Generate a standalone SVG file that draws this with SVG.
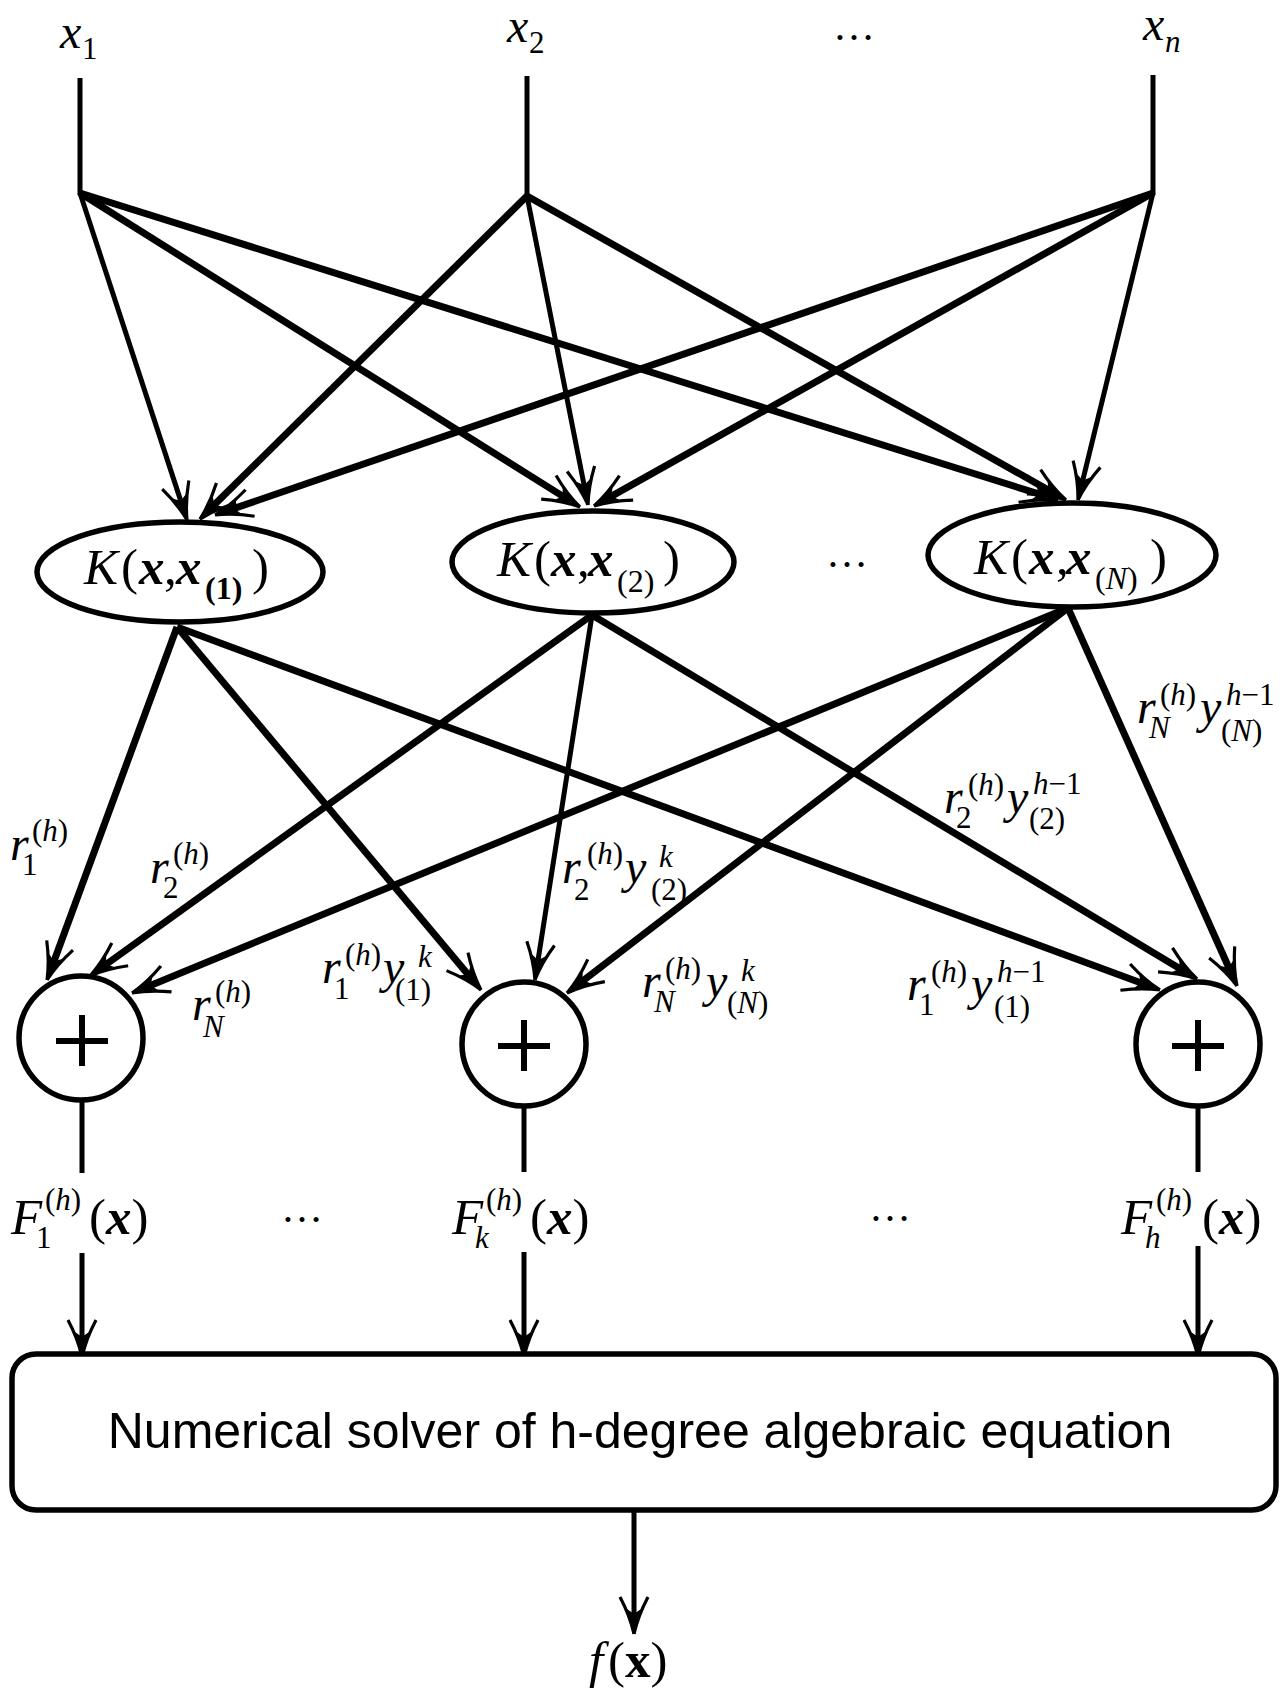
<svg xmlns="http://www.w3.org/2000/svg" width="1280" height="1690" viewBox="0 0 1280 1690">
<style>
.ln{stroke:#000;stroke-width:7;fill:none;marker-end:url(#ah)}
.tn{stroke-width:5}
.vl{stroke:#000;stroke-width:5;fill:none}
.nd{fill:#fff;stroke:#000;stroke-width:5.5}
.m{font-family:"Liberation Serif","Times New Roman",serif;font-size:48px;fill:#000}
.L{font-size:51px}
.i{font-style:italic}
.b{font-weight:bold}
.s{font-size:31px}
.sans{font-family:"Liberation Sans",Arial,sans-serif;font-size:50px;fill:#000}
</style>
<defs>
<marker id="ah" markerUnits="userSpaceOnUse" viewBox="-32 -17 46 34" refX="0" refY="0" markerWidth="46" markerHeight="34" orient="auto" overflow="visible">
<path d="M12,0 Q-6,-4 -25,-14" stroke="#000" stroke-width="3.2" fill="none"/>
<path d="M12,0 Q-6,4 -25,14" stroke="#000" stroke-width="3.2" fill="none"/>
<path d="M12,0 L-13,-7 L-8,0 L-13,7 Z" fill="#000"/>
</marker>
</defs>
<rect width="1280" height="1690" fill="#fff"/>

<g id="connectors">
<line class="vl" x1="80" y1="78" x2="80" y2="195"/>
<line class="vl" x1="527" y1="76" x2="527" y2="198"/>
<line class="vl" x1="1153" y1="75" x2="1153" y2="195"/>
<line class="ln tn" x1="80" y1="193" x2="183.3" y2="508.6"/>
<line class="ln" x1="80" y1="193" x2="569.8" y2="500.6"/>
<line class="ln" x1="80" y1="193" x2="1046.6" y2="496.4"/>
<line class="ln" x1="527" y1="196" x2="208.5" y2="510.6"/>
<line class="ln tn" x1="527" y1="196" x2="585.7" y2="493.2"/>
<line class="ln" x1="527" y1="196" x2="1055.5" y2="494.1"/>
<line class="ln" x1="1153" y1="193" x2="226.4" y2="511.1"/>
<line class="ln" x1="1153" y1="193" x2="604.5" y2="500.1"/>
<line class="ln tn" x1="1153" y1="193" x2="1080.8" y2="488.3"/>
<line class="ln" x1="177" y1="627" x2="51.2" y2="968.7"/>
<line class="ln" x1="177" y1="627" x2="473.3" y2="980.8"/>
<line class="ln" x1="177" y1="627" x2="1148.7" y2="985.8"/>
<line class="ln" x1="592" y1="615" x2="99.7" y2="969"/>
<line class="ln tn" x1="592" y1="615" x2="536.8" y2="968.1"/>
<line class="ln" x1="592" y1="615" x2="1186.7" y2="972.8"/>
<line class="ln" x1="1068" y1="608" x2="143.1" y2="988.4"/>
<line class="ln" x1="1068" y1="608" x2="576.5" y2="985.7"/>
<line class="ln" x1="1068" y1="608" x2="1232.1" y2="975"/>
<line class="vl" x1="82" y1="1100" x2="82" y2="1173"/>
<line class="vl" x1="524" y1="1105" x2="524" y2="1172"/>
<line class="vl" x1="1198" y1="1105" x2="1198" y2="1172"/>
<line class="ln tn" x1="82" y1="1253" x2="82" y2="1345"/>
<line class="ln tn" x1="524" y1="1252" x2="524" y2="1345"/>
<line class="ln tn" x1="1198" y1="1246" x2="1198" y2="1345"/>
<line class="ln tn" x1="634" y1="1511" x2="634" y2="1622"/>
</g>

<g id="edge-labels">
<text class="m"><tspan class="i" x="10" y="860">r</tspan><tspan class="s" x="22" y="875">1</tspan><tspan class="s" x="32" y="841">(<tspan class="i">h</tspan>)</tspan></text>
<text class="m"><tspan class="i" x="150" y="883">r</tspan><tspan class="s" x="163" y="898">2</tspan><tspan class="s" x="173" y="864">(<tspan class="i">h</tspan>)</tspan></text>
<text class="m"><tspan class="i" x="192" y="1020">r</tspan><tspan class="s i" x="203" y="1037">N</tspan><tspan class="s" x="215" y="1002">(<tspan class="i">h</tspan>)</tspan></text>
<text class="m"><tspan class="i" x="322" y="983">r</tspan><tspan class="s" x="334" y="999">1</tspan><tspan class="s" x="345" y="965">(<tspan class="i">h</tspan>)</tspan><tspan class="i" x="383" y="983">y</tspan><tspan class="s i" x="418" y="967">k</tspan><tspan class="s" x="395" y="1000">(1)</tspan></text>
<text class="m"><tspan class="i" x="562" y="883">r</tspan><tspan class="s" x="574" y="900">2</tspan><tspan class="s" x="587" y="864">(<tspan class="i">h</tspan>)</tspan><tspan class="i" x="625" y="883">y</tspan><tspan class="s i" x="659" y="867">k</tspan><tspan class="s" x="651" y="900">(2)</tspan></text>
<text class="m"><tspan class="i" x="642" y="997">r</tspan><tspan class="s i" x="654" y="1012">N</tspan><tspan class="s" x="665" y="979">(<tspan class="i">h</tspan>)</tspan><tspan class="i" x="706" y="997">y</tspan><tspan class="s i" x="741" y="981">k</tspan><tspan class="s" x="727" y="1013">(<tspan class="i">N</tspan>)</tspan></text>
<text class="m"><tspan class="i" x="1137" y="723">r</tspan><tspan class="s i" x="1149" y="738">N</tspan><tspan class="s" x="1160" y="705">(<tspan class="i">h</tspan>)</tspan><tspan class="i" x="1200" y="723">y</tspan><tspan class="s" x="1226" y="705"><tspan class="i">h</tspan>−1</tspan><tspan class="s" x="1221" y="741">(<tspan class="i">N</tspan>)</tspan></text>
<text class="m"><tspan class="i" x="944" y="813">r</tspan><tspan class="s" x="956" y="828">2</tspan><tspan class="s" x="968" y="795">(<tspan class="i">h</tspan>)</tspan><tspan class="i" x="1007" y="813">y</tspan><tspan class="s" x="1033" y="794"><tspan class="i">h</tspan>−1</tspan><tspan class="s" x="1029" y="829">(2)</tspan></text>
<text class="m"><tspan class="i" x="907" y="1000">r</tspan><tspan class="s" x="919" y="1015">1</tspan><tspan class="s" x="931" y="982">(<tspan class="i">h</tspan>)</tspan><tspan class="i" x="971" y="1000">y</tspan><tspan class="s" x="997" y="982"><tspan class="i">h</tspan>−1</tspan><tspan class="s" x="994" y="1017">(1)</tspan></text>
</g>

<g id="input-x1"><text class="m"><tspan class="i" x="60" y="48">x</tspan><tspan class="s" x="82" y="59">1</tspan></text></g>
<g id="input-x2"><text class="m"><tspan class="i" x="507" y="42">x</tspan><tspan class="s" x="529" y="53">2</tspan></text></g>
<g id="input-dots"><text class="m" x="833" y="40" style="font-size:42px">…</text></g>
<g id="input-xn"><text class="m"><tspan class="i" x="1143" y="40">x</tspan><tspan class="s i" x="1165" y="52">n</tspan></text></g>

<g id="kernel-1">
<ellipse class="nd" cx="180" cy="572" rx="143" ry="50"/>
<text class="m L"><tspan class="i" x="84" y="584">K</tspan><tspan x="121" y="584">(</tspan><tspan class="i b" x="139" y="584">x</tspan><tspan x="164" y="584">,</tspan><tspan class="i b" x="176" y="584">x</tspan><tspan class="s b" x="205" y="599" style="font-size:32px">(1)</tspan><tspan x="252" y="584">)</tspan></text>
</g>
<g id="kernel-2">
<ellipse class="nd" cx="593" cy="562" rx="141" ry="51"/>
<text class="m L"><tspan class="i" x="497" y="576">K</tspan><tspan x="534" y="576">(</tspan><tspan class="i b" x="551" y="576">x</tspan><tspan x="577" y="576">,</tspan><tspan class="i b" x="588" y="576">x</tspan><tspan class="s" x="617" y="592" style="font-size:32px">(2)</tspan><tspan x="663" y="576">)</tspan></text>
</g>
<g id="kernel-dots"><text class="m" x="826" y="567" style="font-size:42px">…</text></g>
<g id="kernel-N">
<ellipse class="nd" cx="1072" cy="555" rx="144" ry="52"/>
<text class="m L"><tspan class="i" x="974" y="574">K</tspan><tspan x="1011" y="574">(</tspan><tspan class="i b" x="1029" y="574">x</tspan><tspan x="1056" y="574">,</tspan><tspan class="i b" x="1066" y="574">x</tspan><tspan class="s" x="1095" y="589" style="font-size:32px">(<tspan class="i">N</tspan>)</tspan><tspan x="1150" y="574">)</tspan></text>
</g>

<g id="adder-1">
<circle class="nd" cx="81" cy="1038" r="62"/>
<path d="M56,1041 H108 M82,1015 V1066" stroke="#000" stroke-width="6"/>
</g>
<g id="adder-k">
<circle class="nd" cx="524" cy="1044" r="62"/>
<path d="M498,1046 H550 M524,1020 V1071" stroke="#000" stroke-width="6"/>
</g>
<g id="adder-h">
<circle class="nd" cx="1198" cy="1044" r="62"/>
<path d="M1172,1046 H1224 M1198,1020 V1071" stroke="#000" stroke-width="6"/>
</g>

<g id="output-labels">
<text class="m L"><tspan class="i" x="11" y="1234">F</tspan><tspan class="s" x="36" y="1248">1</tspan><tspan class="s" x="45" y="1210">(<tspan class="i">h</tspan>)</tspan><tspan x="89" y="1234">(<tspan class="i b">x</tspan>)</tspan></text>
<text class="m" x="281" y="1222" style="font-size:42px">…</text>
<text class="m L"><tspan class="i" x="452" y="1234">F</tspan><tspan class="s i" x="475" y="1248">k</tspan><tspan class="s" x="486" y="1210">(<tspan class="i">h</tspan>)</tspan><tspan x="530" y="1234">(<tspan class="i b">x</tspan>)</tspan></text>
<text class="m" x="869" y="1221" style="font-size:42px">…</text>
<text class="m L"><tspan class="i" x="1121" y="1234">F</tspan><tspan class="s i" x="1145" y="1248">h</tspan><tspan class="s" x="1156" y="1210">(<tspan class="i">h</tspan>)</tspan><tspan x="1202" y="1234">(<tspan class="i b">x</tspan>)</tspan></text>
</g>

<g id="solver">
<rect class="nd" x="12" y="1354" width="1264" height="156" rx="24" ry="24"/>
<text class="sans" x="640" y="1448" text-anchor="middle">Numerical solver of h-degree algebraic equation</text>
</g>

<g id="output">
<text class="m L"><tspan class="i" x="589" y="1677">f</tspan><tspan x="608" y="1677">(<tspan class="b">x</tspan>)</tspan></text>
</g>
</svg>
